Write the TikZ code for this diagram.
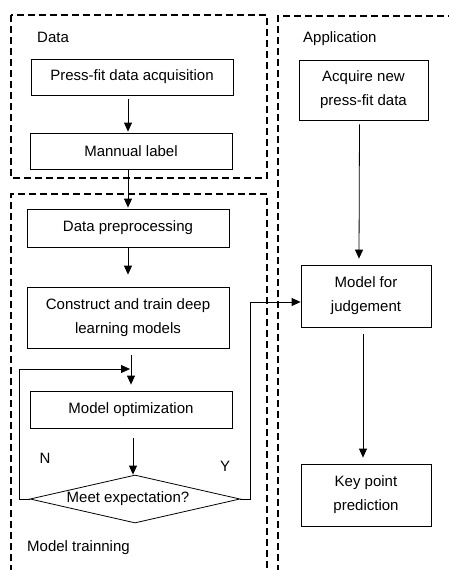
\documentclass[tikz,border=0pt]{standalone}
\usepackage{fontspec}
\setmainfont{Liberation Sans}
\usetikzlibrary{arrows.meta,shapes.geometric,calc}
\begin{document}
\begin{tikzpicture}[x=1pt,y=-1pt,
  txt/.style={inner sep=0pt,align=center,font=\fontsize{15}{24}\selectfont},
  box/.style={txt,draw,line width=0.8pt,minimum width=202pt},
  sbox/.style={txt,draw,line width=0.8pt,minimum width=130pt},
  grp/.style={draw,line width=1.4pt,dash pattern=on 7pt off 4pt},
  arr/.style={draw,line width=0.8pt,-{Triangle[length=9pt,width=8pt]}},
  dia/.style={draw,line width=0.8pt,diamond,inner sep=0pt,minimum width=210pt,minimum height=48pt}
]
\useasboundingbox (0,0) rectangle (448,570);
% group frames
\draw[grp] (11,15) rectangle (267,178);
\draw[grp] (11,572) -- (11,194) -- (267,194) -- (267,572);
\draw[grp] (278,572) -- (278,16) -- (450,16);
% labels
\node[txt,anchor=west] (ldata) at (37,37) {Data};
\node[txt,anchor=west] (lapp) at (303,39) {Application};
\node[txt,anchor=west] (lmt) at (27,548) {Model trainning};
\node[txt] (lN) at (45,458) {N};
\node[txt] (lY) at (225,466) {Y};
% left column
\node[box,minimum height=36pt] (pf) at (132,77) {Press-fit data acquisition};
\node[box,minimum height=36pt] (ml) at (131,151) {Mannual label};
\node[box,minimum height=38pt] (dp) at (128,228) {Data preprocessing};
\node[box,minimum height=61pt] (ct) at (128,317.5) {Construct and train deep\\learning models};
\node[box,minimum height=37pt] (mo) at (131,409.5) {Model optimization};
\node[dia] (dm) at (135,499) {};
\node[txt] (dmt) at (128,499) {Meet expectation?};
% right column
\node[sbox,minimum width=129pt,minimum height=60pt] (aq) at (363.5,90) {Acquire new\\press-fit data};
\node[sbox,minimum height=62pt] (mj) at (366,296) {Model for\\judgement};
\node[sbox,minimum height=62pt] (kp) at (366,495) {Key point\\prediction};
% connectors
\draw[arr] ($(pf.south)+(-4,4)$) -- ($(ml.north)+(-3,-1)$);
\draw[arr] ($(ml.south)+(-3,1)$) -- ($(dp.north)+(0,-1)$);
\draw[arr] ($(dp.south)+(0,1)$) -- ($(ct.north)+(0,-12)$);
\coordinate (fb) at (130,369);
\draw[arr] ($(ct.south)+(3,7)$) -- ($(mo.north)+(0,-6)$);
\draw[arr] ($(mo.south)+(2,10)$) -- ($(dm.north)+(-2,0)$);
\draw[arr] (dm.west) -- ++(-10,0) |- (fb);
\draw[arr] (dm.east) -- ++(10,0) |- ($(mj.west)+(0,6)$);
\draw[arr] ($(aq.south)+(-4,4)$) -- ($(mj.north)+(-7,-6)$);
\draw[arr] ($(mj.south)+(-3,7)$) -- ($(kp.north)+(-3,-6)$);
\end{tikzpicture}
\end{document}
